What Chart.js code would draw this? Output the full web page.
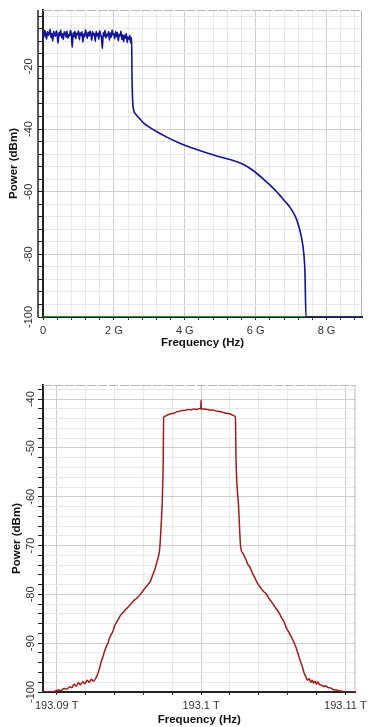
<!DOCTYPE html>
<html>
<head>
<meta charset="utf-8">
<script src="https://cdn.jsdelivr.net/npm/chart.js@4.4.1/dist/chart.umd.min.js"></script>
<style>
  html, body { margin: 0; padding: 0; background: #fff; }
  #wrap { position: relative; width: 371px; height: 727px; }
  canvas { position: absolute; left: 0; }
  #topChart { top: 0; }
  #bottomChart { top: 365px; }
</style>
</head>
<body>
<div id="wrap">
  <canvas id="topChart" width="371" height="352"></canvas>
  <canvas id="bottomChart" width="371" height="362"></canvas>
</div>
<script>
// top spectrum (blue), frequency in GHz
const blueFreqGHz = [
  0, 0.025, 0.05, 0.075, 0.1, 0.125, 0.15, 0.175, 0.2, 0.225,
  0.25, 0.275, 0.3, 0.325, 0.35, 0.375, 0.4, 0.425, 0.45, 0.475,
  0.5, 0.525, 0.55, 0.575, 0.6, 0.625, 0.65, 0.675, 0.7, 0.725,
  0.75, 0.775, 0.8, 0.825, 0.85, 0.875, 0.9, 0.925, 0.95, 0.975,
  1.0, 1.025, 1.05, 1.075, 1.1, 1.125, 1.15, 1.175, 1.2, 1.225,
  1.25, 1.275, 1.3, 1.325, 1.35, 1.375, 1.4, 1.425, 1.45, 1.475,
  1.5, 1.525, 1.55, 1.575, 1.6, 1.625, 1.65, 1.675, 1.7, 1.725,
  1.75, 1.775, 1.8, 1.825, 1.85, 1.875, 1.9, 1.925, 1.95, 1.975,
  2.0, 2.025, 2.05, 2.075, 2.1, 2.125, 2.15, 2.175, 2.2, 2.225,
  2.25, 2.275, 2.3, 2.325, 2.35, 2.375, 2.4, 2.425, 2.45, 2.475,
  2.5,
  2.51, 2.53, 2.56, 2.62, 2.72, 2.85, 3.0, 3.2, 3.48, 3.75,
  4.0, 4.4, 4.9, 5.3, 5.6, 5.9, 6.25, 6.55, 6.8, 7.0,
  7.16, 7.3, 7.36, 7.39, 7.42, 9.0
];
const bluePowerDbm = [
  -9.2, -10.6, -8.5, -9.9, -11.3, -8.9, -10.1, -9.4, -8.2, -10.8,
  -9.5, -11.9, -8.8, -9.7, -10.4, -8.6, -9.9, -12.6, -9.1, -10.2,
  -8.4, -10.9, -9.6, -11.4, -8.9, -9.3, -10.7, -8.7, -11.0, -9.8,
  -10.3, -8.5, -9.9, -13.9, -9.2, -10.6, -8.8, -11.2, -9.4, -10.0,
  -8.6, -11.5, -9.3, -10.2, -8.9, -12.3, -9.7, -10.5, -8.3, -9.8,
  -11.1, -9.0, -10.4, -8.7, -9.6, -11.7, -8.9, -10.1, -9.5, -12.0,
  -8.8, -10.3, -9.4, -11.3, -8.6, -9.9, -10.8, -14.3, -9.2, -10.4,
  -8.5, -11.0, -9.7, -10.2, -8.9, -11.6, -9.3, -10.7, -8.4, -10.0,
  -9.6, -11.2, -8.9, -10.5, -9.1, -11.8, -9.8, -10.3, -8.7, -11.4,
  -9.9, -12.1, -10.0, -11.0, -9.5, -12.4, -10.6, -11.3, -10.1, -12.6,
  -10.8,
  -22, -31, -34, -35.3, -36.6, -38.2, -39.4, -40.8, -42.5, -44,
  -45.2, -46.8, -48.6, -49.8, -51, -53, -56.3, -59.5, -62.7, -65.5,
  -69, -75, -80, -85.6, -100, -100
];
const greenFreqGHz = [0, 9];
const greenPowerDbm = [-100, -100];
const topXLabelValues = [0, 2, 4, 6, 8];
const topXLabelText = ['0', '2 G', '4 G', '6 G', '8 G'];
const topYLabelValues = [-20, -40, -60, -80, -100];
const topYLabelText = ['-20', '-40', '-60', '-80', '-100'];

// bottom spectrum (red), offset in GHz from 193.1 THz
const redOffsetGHz = [
  -10.95, -10.3, -10.1, -9.9, -9.7, -9.5, -9.3, -9.1, -8.95, -8.8,
  -8.65, -8.5, -8.35, -8.2, -8.05, -7.9, -7.75, -7.6, -7.45, -7.3,
  -7.15, -7.03, -6.9, -6.8, -6.69, -6.55, -6.45, -6.35, -6.2, -6.1,
  -6.0, -5.85, -5.7, -5.56, -5.4, -5.2, -5.05, -4.88, -4.7, -4.5,
  -4.35, -4.2, -4.0, -3.8, -3.65, -3.51, -3.35, -3.2, -3.05, -2.95,
  -2.86, -2.76, -2.68, -2.62,
  -2.59, -2.5, -2.3, -2.1, -1.9, -1.7, -1.5, -1.3, -1.1, -0.9,
  -0.7, -0.5, -0.3, -0.1, -0.02, 0, 0.02, 0.2, 0.4, 0.6,
  0.8, 1.0, 1.2, 1.4, 1.6, 1.8, 2.0, 2.2, 2.38,
  2.42, 2.6, 2.75, 2.9, 3.1, 3.25, 3.4, 3.55, 3.7, 3.85,
  3.97, 4.1, 4.3, 4.54, 4.7, 4.9, 5.1, 5.25, 5.44, 5.6,
  5.75, 5.9, 6.05, 6.2, 6.4, 6.58, 6.7, 6.85, 7.03, 7.15,
  7.25, 7.37,
  7.5, 7.6, 7.7, 7.8, 7.9, 8.0, 8.1, 8.2, 8.37, 8.5,
  8.6, 8.8, 9.0, 9.15, 9.32, 9.5, 9.7, 10.0, 10.7
];
const redPowerDbm = [
  -100, -100, -99.8, -99.6, -99.7, -99.3, -99.4, -98.9, -99.1, -98.4,
  -98.8, -98.1, -98.5, -97.9, -98.3, -97.6, -98.0, -97.4, -97.8, -97.2,
  -96.2, -95.1, -93.6, -92.8, -91.7, -90.6, -90.0, -89.0, -88.1, -87.5,
  -86.5, -85.7, -84.9, -84.2, -83.7, -83.0, -82.6, -82.0, -81.4, -80.9,
  -80.5, -80.0, -79.2, -78.4, -77.9, -77.3, -76.0, -74.9, -73.3, -72.2,
  -70.5, -65.5, -60, -52,
  -43.7, -43.5, -43.2, -43.0, -42.9, -42.6, -42.5, -42.3, -42.3, -42.1,
  -42.2, -42.0, -42.1, -41.9, -42.0, -40.2, -42.0, -42.0, -42.1, -42.2,
  -42.2, -42.4, -42.5, -42.6, -42.8, -42.9, -43.0, -43.3, -43.7,
  -52, -62, -70.5, -71.6, -72.8, -73.9, -74.5, -75.6, -76.4, -77.4,
  -78.0, -78.5, -79.3, -80.0, -80.8, -81.6, -82.5, -83.1, -84.0, -84.9,
  -85.6, -86.8, -87.6, -88.4, -89.6, -90.9, -92.0, -93.4, -95.0, -96.2,
  -96.8, -97.6,
  -97.3, -98.0, -97.6, -98.2, -97.8, -98.4, -97.9, -98.5, -98.6, -98.9,
  -98.7, -99.1, -99.2, -99.5, -99.6, -99.7, -99.8, -100, -100
];
const bottomXLabelValues = [-10, 0, 10];
const bottomXLabelText = ['193.09 T', '193.1 T', '193.11 T'];
const bottomYLabelValues = [-40, -50, -60, -70, -80, -90, -100];
const bottomYLabelText = ['-40', '-50', '-60', '-70', '-80', '-90', '-100'];

const FONT = '"Liberation Sans", Arial, sans-serif';
const tickFont = { family: FONT, size: 11 };
const titleFont = { family: FONT, size: 11.5, weight: 'bold' };

const toPoints = (xs, ys) => xs.map((x, i) => ({ x: x, y: ys[i] }));

function stepTicks(start, end, step) {
  const out = [];
  for (let v = start; v <= end + 1e-9; v += step) out.push({ value: +v.toFixed(6) });
  return out;
}

function labelFor(values, texts) {
  return v => {
    const i = values.findIndex(t => Math.abs(t - v) < 1e-6);
    return i >= 0 ? texts[i] : '';
  };
}

const isMajor = (ctx, values) => ctx.tick && values.some(t => Math.abs(t - ctx.tick.value) < 1e-6);

// borders, ruler line and rotated y tick labels
const frame = {
  id: 'frame',
  beforeDatasetsDraw(chart, args, opts) {
    const { ctx, chartArea: a } = chart;
    ctx.save();
    ctx.strokeStyle = '#b9b9b9';
    ctx.lineWidth = 1;
    ctx.setLineDash([9, 2]);
    ctx.beginPath();
    ctx.moveTo(a.left, a.top + 0.5);
    ctx.lineTo(a.right, a.top + 0.5);
    ctx.stroke();
    ctx.setLineDash([]);
    ctx.beginPath();
    ctx.moveTo(a.right - 0.5, a.top);
    ctx.lineTo(a.right - 0.5, a.bottom);
    ctx.stroke();
    if (opts.ruler) {
      ctx.strokeStyle = '#222';
      ctx.lineWidth = 1.5;
      ctx.beginPath();
      ctx.moveTo(a.left - 5, a.top);
      ctx.lineTo(a.left - 5, a.bottom);
      ctx.stroke();
    }
    ctx.restore();
  },
  afterDraw(chart, args, opts) {
    const { ctx } = chart;
    const y = chart.scales.y;
    ctx.save();
    ctx.font = '11px ' + FONT;
    ctx.fillStyle = '#333';
    ctx.textAlign = 'center';
    ctx.textBaseline = 'middle';
    opts.labelValues.forEach((v, i) => {
      ctx.save();
      ctx.translate(opts.labelX, y.getPixelForValue(v));
      ctx.rotate(-Math.PI / 2);
      ctx.fillText(opts.labelText[i], 0, 0);
      ctx.restore();
    });
    ctx.restore();
  }
};

function buildChart(id, cfg) {
  return new Chart(document.getElementById(id), {
    type: 'line',
    data: { datasets: cfg.datasets },
    options: {
      responsive: false,
      animation: false,
      devicePixelRatio: 1,
      layout: { padding: cfg.padding },
      plugins: {
        legend: { display: false },
        tooltip: { enabled: false },
        frame: cfg.frame
      },
      elements: { point: { radius: 0 }, line: { tension: 0 } },
      scales: {
        x: {
          type: 'linear',
          min: cfg.xMin,
          max: cfg.xMax,
          afterBuildTicks: s => { s.ticks = stepTicks(cfg.xTickStart, cfg.xMax, cfg.xStep); },
          afterFit: s => { s.height = cfg.xAxisHeight; },
          ticks: {
            autoSkip: false, maxRotation: 0, minRotation: 0, padding: 4,
            color: '#333', font: tickFont,
            callback: labelFor(cfg.xLabelValues, cfg.xLabelText)
          },
          grid: {
            color: ctx => isMajor(ctx, cfg.xLabelValues) ? '#cdcdcd' : '#e8e8e8',
            tickColor: '#333', tickLength: 3
          },
          border: { color: '#222', width: 2 },
          title: {
            display: true, text: 'Frequency (Hz)', color: '#111', font: titleFont,
            padding: { top: 0, bottom: cfg.xTitlePad }
          }
        },
        y: {
          type: 'linear',
          min: cfg.yMin,
          max: cfg.yMax,
          afterBuildTicks: s => { s.ticks = stepTicks(cfg.yMin, cfg.yMax, cfg.yStep); },
          afterFit: s => { s.width = cfg.yAxisWidth; },
          ticks: { display: false },
          grid: {
            color: ctx => isMajor(ctx, cfg.yLabelValues) ? '#cdcdcd' : '#e8e8e8',
            tickColor: '#222', tickLength: 5
          },
          border: { color: '#222', width: 2 },
          title: {
            display: true, text: 'Power (dBm)', color: '#111', font: titleFont,
            padding: { top: cfg.yTitlePad, bottom: 0 }
          }
        }
      }
    },
    plugins: [frame]
  });
}

buildChart('topChart', {
  datasets: [
    { data: toPoints(blueFreqGHz, bluePowerDbm), borderColor: '#14149a', borderWidth: 1.6, cubicInterpolationMode: 'monotone' },
    { data: toPoints(greenFreqGHz, greenPowerDbm), borderColor: '#2e8b2e', borderWidth: 2 }
  ],
  padding: { top: 10, right: 9, bottom: 0, left: 0 },
  xMin: 0, xMax: 9, xTickStart: 0, xStep: 0.4,
  xLabelValues: topXLabelValues, xLabelText: topXLabelText,
  xAxisHeight: 35, xTitlePad: 2.1,
  yMin: -100, yMax: -2, yStep: 4,
  yLabelValues: topYLabelValues,
  yAxisWidth: 43, yTitlePad: 7.1,
  frame: { ruler: true, labelX: 29, labelValues: topYLabelValues, labelText: topYLabelText }
});

buildChart('bottomChart', {
  datasets: [
    { data: toPoints(redOffsetGHz, redPowerDbm), borderColor: '#a31b1b', borderWidth: 1.5, cubicInterpolationMode: 'monotone' }
  ],
  padding: { top: 20, right: 9, bottom: 0, left: 0 },
  xMin: -10.95, xMax: 10.7, xTickStart: -10, xStep: 2,
  xLabelValues: bottomXLabelValues, xLabelText: bottomXLabelText,
  xAxisHeight: 35, xTitlePad: 0.1,
  yMin: -100, yMax: -37.1, yStep: 2,
  yLabelValues: bottomYLabelValues,
  yAxisWidth: 43, yTitlePad: 10.1,
  frame: { ruler: false, labelX: 31, labelValues: bottomYLabelValues, labelText: bottomYLabelText }
});
</script>
</body>
</html>
